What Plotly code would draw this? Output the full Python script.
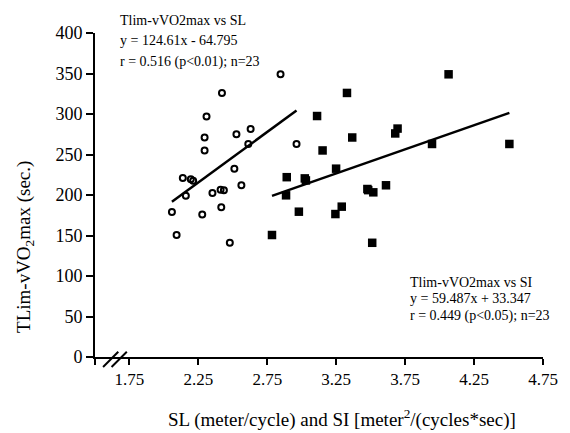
import plotly.graph_objects as go

# SL (stride length) data - open circles
sl_x = [2.846, 2.421, 2.309, 2.295, 2.295, 2.526, 2.629, 2.612, 2.962, 2.511, 2.137,
        2.195, 2.212, 2.562, 2.411, 2.435, 2.352, 2.159, 2.058, 2.278, 2.416, 2.092, 2.478]
sl_y = [349, 326, 297, 271, 255, 275, 281.5, 263, 263, 232.5, 221,
        219.5, 217.5, 212, 206.5, 206, 202.5, 199, 179, 176, 185, 150.6, 141]

# SI (stroke index) data - filled squares
si_x = [4.065, 3.328, 3.111, 3.366, 3.151, 3.695, 3.678, 3.945, 4.506, 3.249, 2.891,
        3.022, 3.030, 3.611, 3.476, 3.482, 3.519, 2.886, 2.979, 3.290, 3.244, 2.784, 3.511]
si_y = [349, 326, 297.5, 271, 255, 282, 276, 263, 263, 232.5, 222,
        220.5, 218, 212, 207.4, 206, 203.3, 199.6, 179.4, 185.6, 176.5, 150.6, 141]

# Regression equations
sl_slope, sl_intercept = 124.61, -64.795
si_slope, si_intercept = 59.487, 33.347

x_tickvals = [1.5, 1.75, 2.25, 2.75, 3.25, 3.75, 4.25, 4.75]
x_ticktext = ["", "1.75", "2.25", "2.75", "3.25", "3.75", "4.25", "4.75"]
y_tickvals = [0, 50, 100, 150, 200, 250, 300, 350, 400]

sl_label = ["Tlim-vVO2max vs SL", "y = 124.61x - 64.795", "r = 0.516 (p<0.01); n=23"]
si_label = ["Tlim-vVO2max vs SI", "y = 59.487x + 33.347", "r = 0.449 (p<0.05); n=23"]

FONT = "Liberation Serif"

fig = go.Figure()

fig.add_trace(go.Scatter(
    x=sl_x, y=sl_y, mode="markers",
    marker=dict(symbol="circle-open", size=6, color="black", line=dict(width=2, color="black")),
    showlegend=False, cliponaxis=False))
fig.add_trace(go.Scatter(
    x=si_x, y=si_y, mode="markers",
    marker=dict(symbol="square", size=8.5, color="black"),
    showlegend=False, cliponaxis=False))

sl_line_x = [min(sl_x), max(sl_x)]
sl_line_y = [sl_slope * v + sl_intercept for v in sl_line_x]
si_line_x = [min(si_x), max(si_x)]
si_line_y = [si_slope * v + si_intercept for v in si_line_x]

fig.add_trace(go.Scatter(x=sl_line_x, y=sl_line_y, mode="lines",
                         line=dict(color="black", width=2.5), showlegend=False))
fig.add_trace(go.Scatter(x=si_line_x, y=si_line_y, mode="lines",
                         line=dict(color="black", width=2.5), showlegend=False))

# Equation annotations (top-left, in paper coordinates since partly above the plot)
for i, txt in enumerate(sl_label):
    fig.add_annotation(x=0.051, y=1.040 - i * 0.0645, xref="paper", yref="paper", text=txt,
                       showarrow=False, xanchor="left", yanchor="middle",
                       font=dict(family=FONT, size=14, color="black"))
for i, txt in enumerate(si_label):
    fig.add_annotation(x=0.698, y=0.231 - i * 0.0515, xref="paper", yref="paper", text=txt,
                       showarrow=False, xanchor="left", yanchor="middle",
                       font=dict(family=FONT, size=14, color="black"))

# X axis title (shifted right as in reference)
fig.add_annotation(x=0.5, y=-0.19, xref="paper", yref="paper",
                   xshift=23,
                   text="SL (meter/cycle) and SI [meter<sup>2</sup>/(cycles*sec)]",
                   showarrow=False, xanchor="center", yanchor="middle",
                   font=dict(family=FONT, size=19, color="black"))

# Y axis title
fig.add_annotation(x=-0.156, y=0.34, xref="paper", yref="paper",
                   text="TLim-vVO<sub>2</sub>max (sec.)", textangle=-90,
                   showarrow=False, xanchor="center", yanchor="middle",
                   font=dict(family=FONT, size=19, color="black"))

# Axis break marks
for x0 in (0.018, 0.037):
    fig.add_shape(type="line", xref="paper", yref="paper",
                  x0=x0, y0=-0.031, x1=x0 + 0.034, y1=0.016,
                  line=dict(color="black", width=2))

fig.update_layout(
    width=570, height=433,
    margin=dict(l=95, r=21, t=33, b=76),
    paper_bgcolor="white", plot_bgcolor="white",
    font=dict(family=FONT, color="black"),
    xaxis=dict(range=[1.5, 4.75], tickvals=x_tickvals, ticktext=x_ticktext,
               showline=True, linecolor="black", linewidth=2,
               ticks="outside", ticklen=6, tickwidth=2, tickcolor="black",
               showgrid=False, zeroline=False,
               tickfont=dict(family=FONT, size=17, color="black")),
    yaxis=dict(range=[0, 400], tickvals=y_tickvals,
               showline=True, linecolor="black", linewidth=2,
               ticks="outside", ticklen=7, tickwidth=2, tickcolor="black",
               showgrid=False, zeroline=False,
               tickfont=dict(family=FONT, size=18, color="black")),
)

fig.write_html("out.html")
